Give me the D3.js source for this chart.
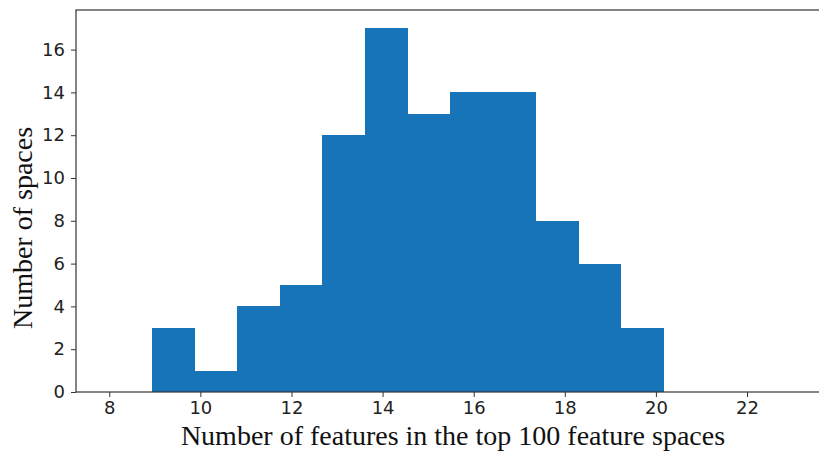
<!DOCTYPE html>
<html><head><meta charset="utf-8">
<script src="https://cdn.jsdelivr.net/npm/d3@7"></script>
<style>body{margin:0;background:#fff}svg{display:block}</style>
</head><body>
<svg id="chart" width="819" height="452"></svg>
<script>
// Histogram data
const binStart = 8.94;
const binWidth = 0.935;
const counts = [3, 1, 4, 5, 12, 17, 13, 14, 14, 8, 6, 3];
const xTicks = [8, 10, 12, 14, 16, 18, 20, 22];
const yTicks = [0, 2, 4, 6, 8, 10, 12, 14, 16];
const xLabel = "Number of features in the top 100 feature spaces";
const yLabel = "Number of spaces";

const bins = counts.map((c, i) => ({x0: binStart + i * binWidth, x1: binStart + (i + 1) * binWidth, count: c}));

const svg = d3.select("#chart");
const m = {left: 76, right: 819, top: 10, bottom: 392};
const x = d3.scaleLinear().domain([7.27, 23.58]).range([m.left, m.right]);
const y = d3.scaleLinear().domain([0, 17.85]).range([m.bottom, m.top]);

svg.append("g").attr("shape-rendering", "crispEdges").selectAll("rect").data(bins).join("rect")
  .attr("x", d => x(d.x0))
  .attr("width", d => x(d.x1) - x(d.x0) + 0.5)
  .attr("y", d => y(d.count))
  .attr("height", d => y(0) - y(d.count))
  .attr("fill", "#1874b8");

const fontTick = "'DejaVu Sans', sans-serif";
const gx = svg.append("g").attr("transform", `translate(0,${m.bottom})`)
  .call(d3.axisBottom(x).tickValues(xTicks).tickSize(5).tickPadding(4).tickFormat(d3.format("d")));
const gy = svg.append("g").attr("transform", `translate(${m.left},0)`)
  .call(d3.axisLeft(y).tickValues(yTicks).tickSize(5).tickPadding(6).tickFormat(d3.format("d")));
[gx, gy].forEach(g => {
  g.select(".domain").remove();
  g.selectAll("line").attr("stroke", "#333").attr("stroke-width", 1);
  g.selectAll("text").attr("font-family", fontTick).attr("font-size", 18).attr("fill", "#222");
});

// frame
svg.append("rect").attr("x", m.left).attr("y", m.top)
  .attr("width", m.right - m.left + 5).attr("height", m.bottom - m.top)
  .attr("fill", "none").attr("stroke", "#333").attr("stroke-width", 1.2);

svg.append("text").attr("x", 453).attr("y", 445).attr("text-anchor", "middle")
  .attr("font-family", "'Liberation Serif', 'Times New Roman', serif").attr("font-size", 28)
  .attr("fill", "#111").text(xLabel);
svg.append("text").attr("transform", `translate(32,228) rotate(-90)`)
  .attr("text-anchor", "middle")
  .attr("font-family", "'Liberation Serif', 'Times New Roman', serif").attr("font-size", 28)
  .attr("fill", "#111").text(yLabel);
</script>
</body></html>
